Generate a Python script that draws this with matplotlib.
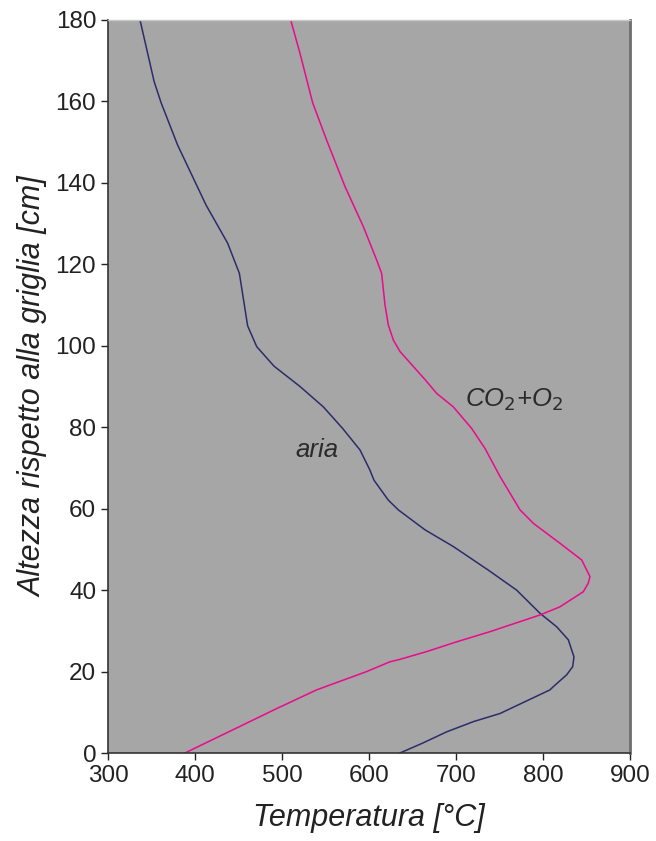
import matplotlib
matplotlib.use("Agg")
import matplotlib.pyplot as plt

plt.rcParams['font.family'] = ['Liberation Sans', 'DejaVu Sans']

# aria profile: temperature [C] vs height [cm]
aria_T = [336.8, 353, 361, 380, 412.6, 437.5, 451, 460.5, 470.9, 490.8, 520.7,
          547.5, 569.7, 589.7, 601, 605.7, 622.2, 633.7, 664.4, 696.9, 737.2,
          769.7, 796.6, 815.7, 829.1, 835.6, 834.1, 827.2, 811.9, 808, 750.6,
          719.9, 689.3, 662.4, 635.6]
aria_h = [180, 164.9, 159.7, 149.3, 134.6, 125.2, 117.8, 104.9, 99.8, 95.0, 90.0,
          85.0, 79.7, 74.4, 69.5, 67.0, 62.1, 59.7, 54.8, 50.7, 44.9,
          40.0, 34.3, 31.0, 27.8, 23.6, 21.2, 19.2, 16.3, 15.5, 9.7,
          7.7, 5.2, 2.5, 0]

# CO2+O2 profile
co2_T = [510, 520.7, 535.2, 551.3, 572.4, 593.4, 608, 614.5, 618.4, 622.2, 628,
         635.6, 664.4, 677.8, 696.9, 718, 733.3, 750.6, 773.6, 788.9, 819.5,
         844.5, 854, 852, 846.3, 819.5, 796.6, 739.1, 700.7, 666.2, 635.6, 624.1,
         597.3, 539.8, 493.8, 388.5]
co2_h = [180, 171.8, 159.7, 150.5, 139.1, 129.3, 121.5, 117.8, 110.0, 105.1, 101.4,
         98.6, 91.7, 88.3, 85.0, 79.7, 74.8, 67.9, 59.7, 56.4, 51.5,
         47.4, 43.3, 41.7, 39.6, 35.9, 33.9, 29.8, 27.3, 24.9, 23.0, 22.4,
         20.0, 15.5, 10.9, 0]

xticks = [300, 400, 500, 600, 700, 800, 900]
yticks = [0, 20, 40, 60, 80, 100, 120, 140, 160, 180]

fig = plt.figure(figsize=(6.56, 8.41), dpi=100)
ax = fig.add_axes([108 / 656, 1 - 753 / 841, (630 - 108) / 656, (753 - 20) / 841])
ax.set_facecolor('#a6a6a6')

ax.plot(aria_T, aria_h, color='#2e2b6b', lw=1.1)
ax.plot(co2_T, co2_h, color='#ea0a8c', lw=1.1)

ax.text(516, 72.7, 'aria', fontsize=18.5, style='italic', color='#2a2a2a')
ax.text(710, 85.2, 'CO$_2$+O$_2$', fontsize=18.5, style='italic', color='#2a2a2a')

ax.set_xlim(300, 900)
ax.set_ylim(0, 180)
ax.set_xticks(xticks)
ax.set_yticks(yticks)
ax.tick_params(labelsize=17.5, colors='#222222', length=5, width=1, direction='out')

ax.set_xlabel('Temperatura [°C]', fontsize=22, style='italic', color='#222222', labelpad=12)
ax.set_ylabel('Altezza rispetto alla griglia [cm]', fontsize=22, style='italic',
              color='#222222', labelpad=5)

for s in ['left', 'bottom']:
    ax.spines[s].set_color('#333333')
    ax.spines[s].set_linewidth(1.2)
ax.spines['right'].set_color('#6d6d6d')
ax.spines['right'].set_linewidth(2)
ax.spines['top'].set_color('#c8c8c8')
ax.spines['top'].set_linewidth(1)

fig.savefig('out.png', dpi=100)
